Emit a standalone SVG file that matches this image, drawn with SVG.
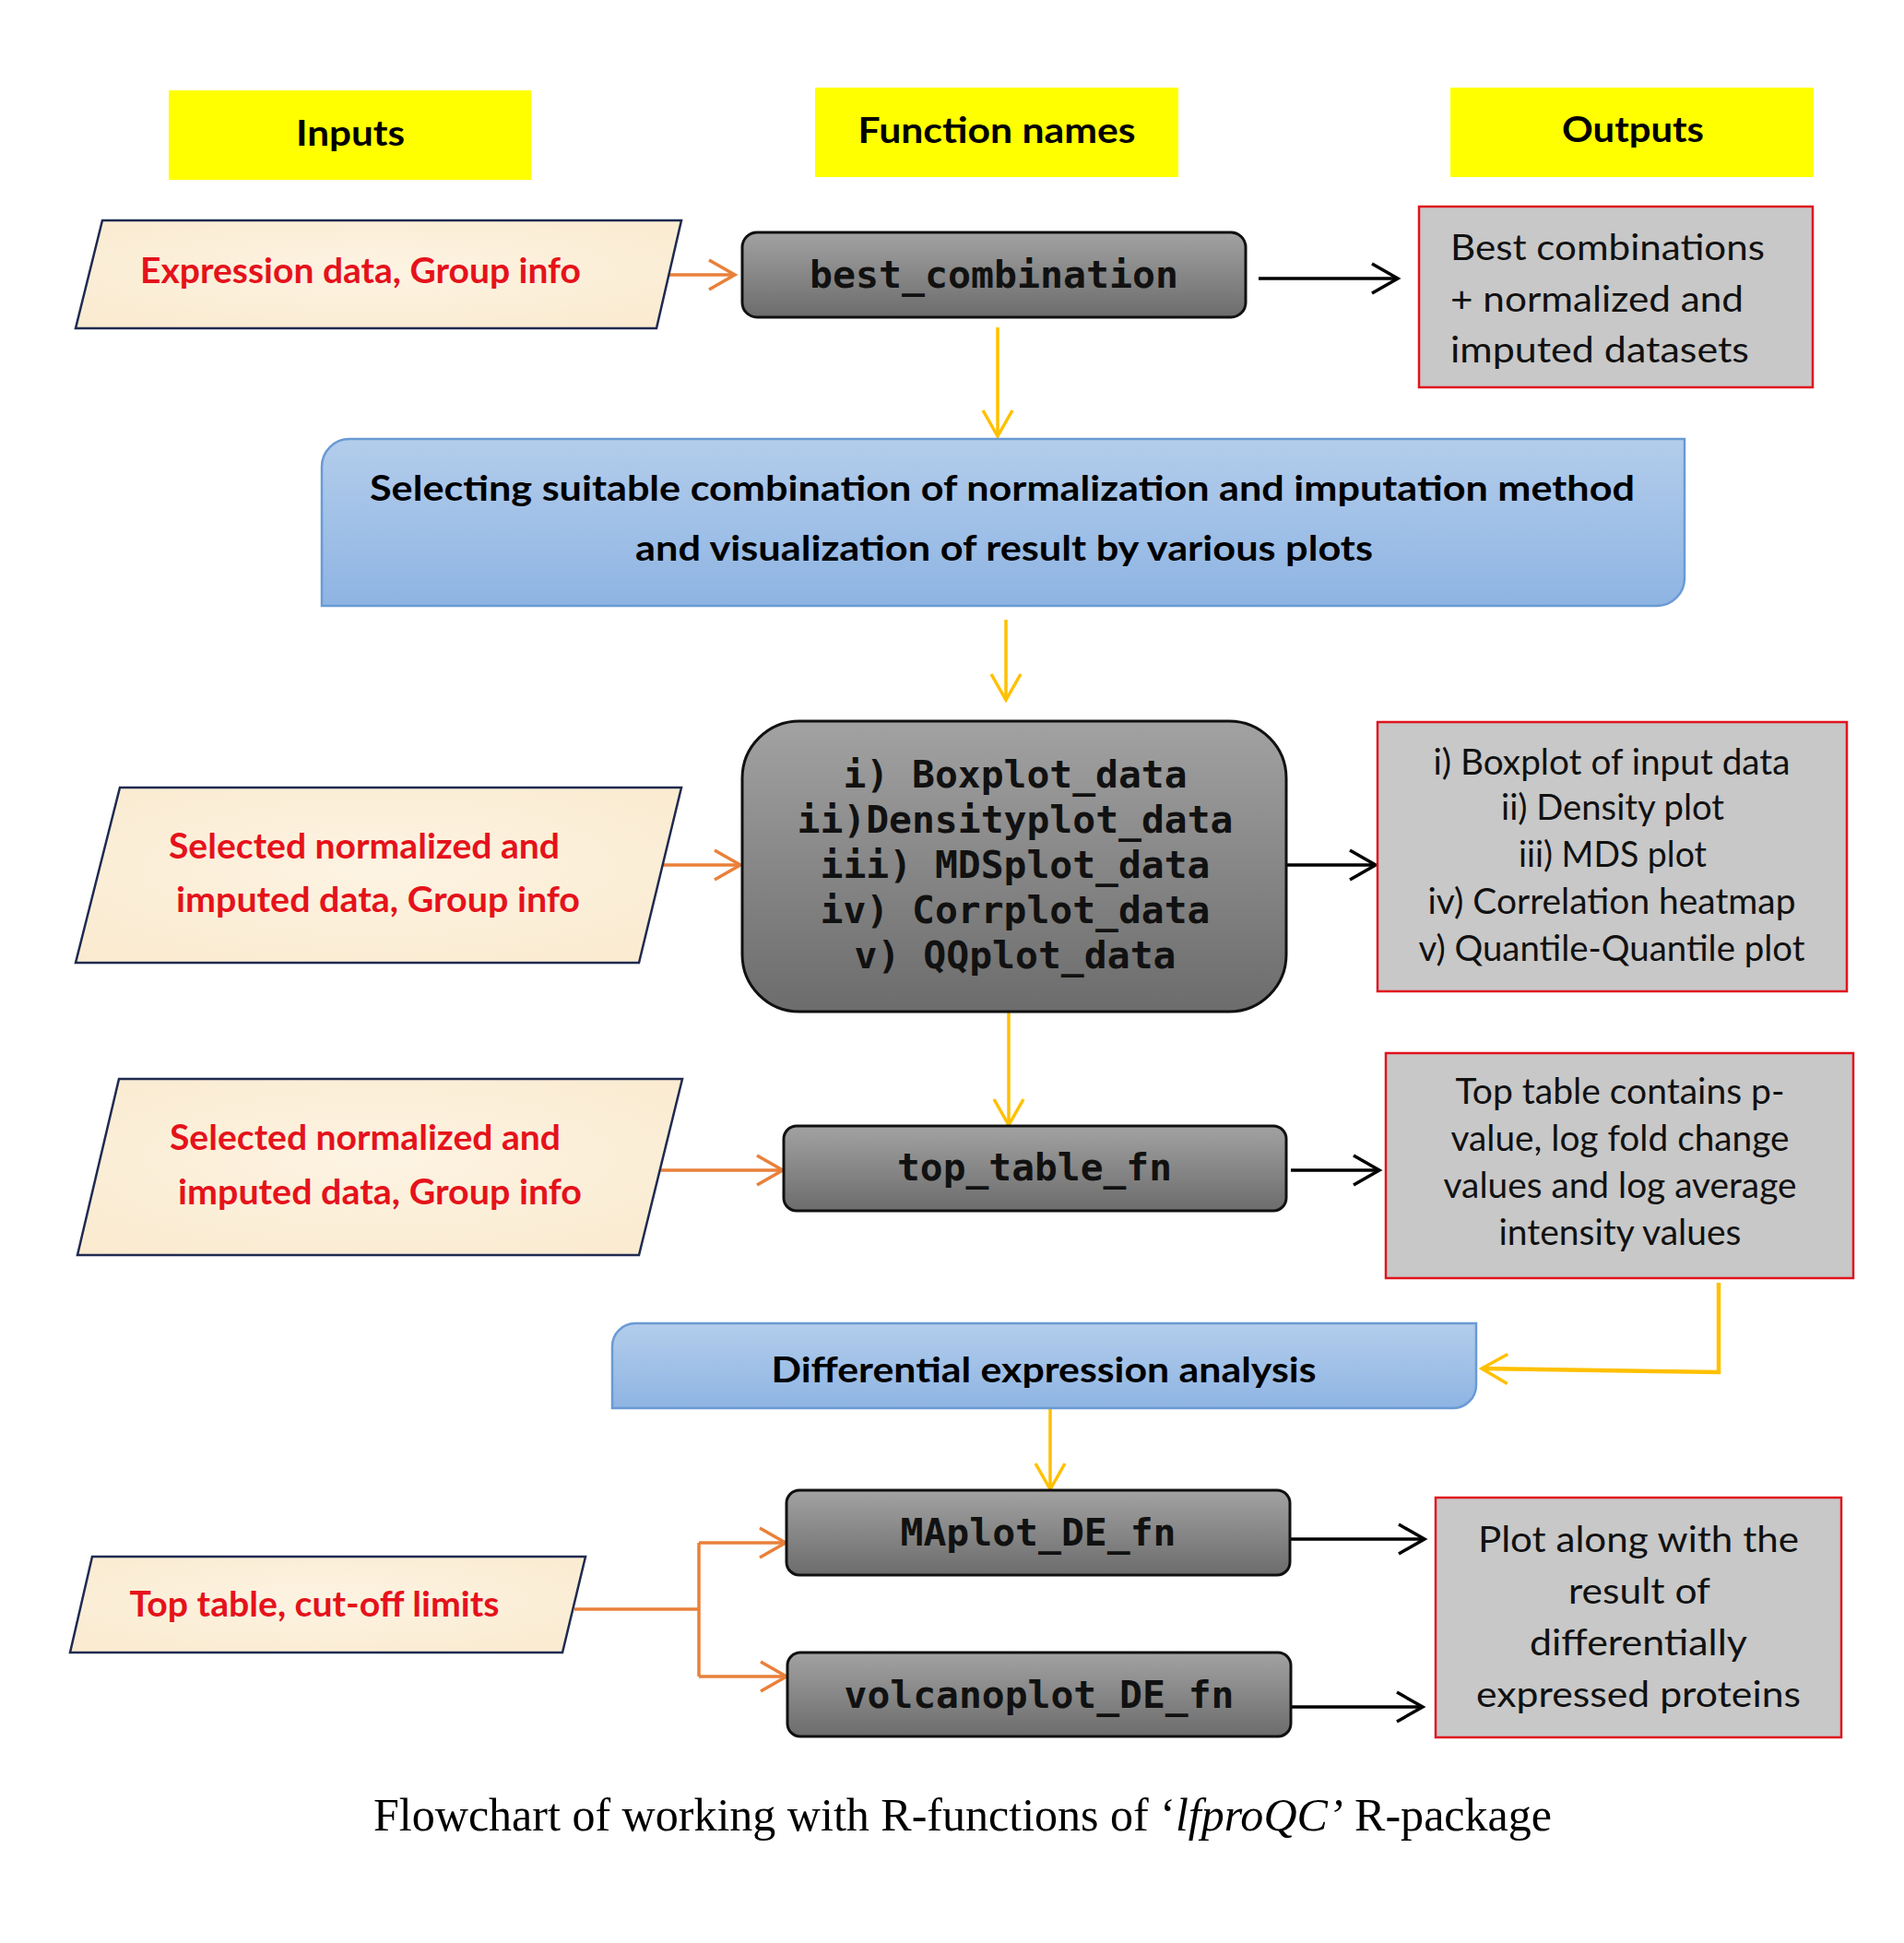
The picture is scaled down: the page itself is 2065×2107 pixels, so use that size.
<svg xmlns="http://www.w3.org/2000/svg" width="2065" height="2107" viewBox="0 0 2065 2107">
<style>
.hdr{fill:#FFFF00}
.hdrt{font-family:Lato,"Open Sans",sans-serif;font-weight:bold;font-size:39px;fill:#000;text-anchor:middle}
.para{fill:url(#parch);stroke:#1F2A50;stroke-width:2.5}
.pt{font-family:Lato,"Open Sans",sans-serif;font-weight:bold;font-size:38px;fill:#E5121B}
.fn{fill:url(#grey);stroke:#111;stroke-width:3}
.ft{font-family:"DejaVu Sans Mono","Liberation Mono",monospace;font-weight:bold;font-size:41px;fill:#111;text-anchor:middle}
.out{fill:#C8C8C8;stroke:#E0141E;stroke-width:2.5}
.ot{font-family:Lato,"Open Sans",sans-serif;font-size:38px;fill:#111}
.blue{fill:url(#blue);stroke:#6A9AD4;stroke-width:2.5}
.bt{font-family:Lato,"Open Sans",sans-serif;font-weight:bold;font-size:38px;fill:#000;text-anchor:middle}
.blk{fill:none;stroke:#000;stroke-width:3.5}
.org{fill:none;stroke:#E9803A;stroke-width:3.5}
.yel{fill:none;stroke:#FFC000;stroke-width:3.5}
.cap{font-family:"Liberation Serif","Times New Roman",serif;font-size:51px;fill:#000;text-anchor:middle}
</style>
<defs>
<radialGradient id="parch" cx="50%" cy="45%" r="70%">
<stop offset="0" stop-color="#FDF3E2"/>
<stop offset="1" stop-color="#FAEBD0"/>
</radialGradient>
<linearGradient id="grey" x1="0" y1="0" x2="0" y2="1">
<stop offset="0" stop-color="#A2A2A2"/>
<stop offset="1" stop-color="#6C6C6C"/>
</linearGradient>
<linearGradient id="blue" x1="0" y1="0" x2="0" y2="1">
<stop offset="0" stop-color="#B3CDEB"/>
<stop offset="1" stop-color="#8EB4E3"/>
</linearGradient>
<marker id="mb" markerUnits="userSpaceOnUse" markerWidth="40" markerHeight="40" viewBox="-32 -20 36 40" refX="0" refY="0" orient="auto" overflow="visible">
<path d="M-28,-16 L0,0 L-28,16" fill="none" stroke="#000" stroke-width="3.5"/>
</marker>
<marker id="mo" markerUnits="userSpaceOnUse" markerWidth="40" markerHeight="40" viewBox="-32 -20 36 40" refX="0" refY="0" orient="auto" overflow="visible">
<path d="M-28,-16 L0,0 L-28,16" fill="none" stroke="#E9803A" stroke-width="3.5"/>
</marker>
<marker id="my" markerUnits="userSpaceOnUse" markerWidth="40" markerHeight="40" viewBox="-32 -20 36 40" refX="0" refY="0" orient="auto" overflow="visible">
<path d="M-28,-16 L0,0 L-28,16" fill="none" stroke="#FFC000" stroke-width="3.5"/>
</marker>
</defs>
<rect x="0" y="0" width="2065" height="2107" fill="#fff"/>

<g id="headers">
<g id="h-inputs"><rect class="hdr" x="183" y="98" width="393" height="97"/><text class="hdrt" x="380" y="158" textLength="118" lengthAdjust="spacingAndGlyphs">Inputs</text></g>
<g id="h-functions"><rect class="hdr" x="884" y="95" width="394" height="97"/><text class="hdrt" x="1081" y="155" textLength="301" lengthAdjust="spacingAndGlyphs">Function names</text></g>
<g id="h-outputs"><rect class="hdr" x="1573" y="95" width="394" height="97"/><text class="hdrt" x="1771" y="154" textLength="154" lengthAdjust="spacingAndGlyphs">Outputs</text></g>
</g>

<g id="connectors">
<line class="org" x1="723" y1="298" x2="797" y2="298" marker-end="url(#mo)"/>
<line class="blk" x1="1365" y1="302" x2="1516" y2="302" marker-end="url(#mb)"/>
<line class="yel" x1="1082" y1="355" x2="1082" y2="473" marker-end="url(#my)"/>
<line class="yel" x1="1091" y1="672" x2="1091" y2="759" marker-end="url(#my)"/>
<line class="org" x1="717" y1="938" x2="803" y2="938" marker-end="url(#mo)"/>
<line class="blk" x1="1395" y1="938" x2="1492" y2="938" marker-end="url(#mb)"/>
<line class="yel" x1="1094" y1="1098" x2="1094" y2="1220" marker-end="url(#my)"/>
<line class="org" x1="716" y1="1269" x2="849" y2="1269" marker-end="url(#mo)"/>
<line class="blk" x1="1400" y1="1269" x2="1496" y2="1269" marker-end="url(#mb)"/>
<polyline class="yel" style="stroke-width:4.5" points="1864,1391 1864,1488 1607,1484" marker-end="url(#my)"/>
<line class="yel" x1="1139" y1="1527" x2="1139" y2="1615" marker-end="url(#my)"/>
<polyline class="org" points="623,1745 758,1745"/>
<line class="org" x1="758" y1="1673" x2="758" y2="1818"/>
<line class="org" x1="758" y1="1673" x2="852" y2="1673" marker-end="url(#mo)"/>
<line class="org" x1="758" y1="1818" x2="853" y2="1818" marker-end="url(#mo)"/>
<line class="blk" x1="1399" y1="1669" x2="1545" y2="1669" marker-end="url(#mb)"/>
<line class="blk" x1="1400" y1="1851" x2="1543" y2="1851" marker-end="url(#mb)"/>
</g>

<g id="in1"><polygon class="para" points="111,239 739,239 712,356 82,356"/><text class="pt" x="391" y="307" text-anchor="middle" textLength="478" lengthAdjust="spacingAndGlyphs">Expression data, Group info</text></g>

<g id="best_combination"><rect class="fn" x="805" y="252" width="546" height="92" rx="16"/><text class="ft" x="1078" y="312" textLength="400" lengthAdjust="spacingAndGlyphs">best_combination</text></g>

<g id="out1"><rect class="out" x="1539" y="224" width="427" height="196"/>
<text class="ot" x="1573" y="282" textLength="341" lengthAdjust="spacingAndGlyphs">Best combinations</text>
<text class="ot" x="1573" y="338" textLength="318" lengthAdjust="spacingAndGlyphs">+ normalized and</text>
<text class="ot" x="1573" y="393" textLength="324" lengthAdjust="spacingAndGlyphs">imputed datasets</text></g>

<g id="selecting"><path class="blue" d="M349,506 A30,30 0 0 1 379,476 L1827,476 L1827,627 A30,30 0 0 1 1797,657 L349,657 Z"/>
<text class="bt" x="1087" y="543" textLength="1372" lengthAdjust="spacingAndGlyphs">Selecting suitable combination of normalization and imputation method</text>
<text class="bt" x="1089" y="608" textLength="800" lengthAdjust="spacingAndGlyphs">and visualization of result by various plots</text></g>

<g id="in2"><polygon class="para" points="130,854 739,854 693,1044 82,1044"/>
<text class="pt" x="395" y="931" text-anchor="middle" textLength="424" lengthAdjust="spacingAndGlyphs">Selected normalized and</text>
<text class="pt" x="410" y="989" text-anchor="middle" textLength="438" lengthAdjust="spacingAndGlyphs">imputed data, Group info</text></g>

<g id="plots"><rect class="fn" x="805" y="782" width="590" height="315" rx="62"/>
<text class="ft" x="1101" y="854" textLength="373" lengthAdjust="spacingAndGlyphs">i) Boxplot_data</text>
<text class="ft" x="1101" y="903" textLength="473" lengthAdjust="spacingAndGlyphs">ii)Densityplot_data</text>
<text class="ft" x="1101" y="952" textLength="423" lengthAdjust="spacingAndGlyphs">iii) MDSplot_data</text>
<text class="ft" x="1101" y="1001" textLength="423" lengthAdjust="spacingAndGlyphs">iv) Corrplot_data</text>
<text class="ft" x="1101" y="1050" textLength="349" lengthAdjust="spacingAndGlyphs">v) QQplot_data</text></g>

<g id="out2"><rect class="out" x="1494" y="783" width="509" height="292"/>
<text class="ot" x="1748" y="840" text-anchor="middle" textLength="387" lengthAdjust="spacingAndGlyphs">i) Boxplot of input data</text>
<text class="ot" x="1749" y="889" text-anchor="middle" textLength="242" lengthAdjust="spacingAndGlyphs">ii) Density plot</text>
<text class="ot" x="1749" y="940" text-anchor="middle" textLength="204" lengthAdjust="spacingAndGlyphs">iii) MDS plot</text>
<text class="ot" x="1748" y="991" text-anchor="middle" textLength="399" lengthAdjust="spacingAndGlyphs">iv) Correlation heatmap</text>
<text class="ot" x="1748" y="1042" text-anchor="middle" textLength="419" lengthAdjust="spacingAndGlyphs">v) Quantile-Quantile plot</text></g>

<g id="in3"><polygon class="para" points="129,1170 740,1170 693,1361 84,1361"/>
<text class="pt" x="396" y="1247" text-anchor="middle" textLength="424" lengthAdjust="spacingAndGlyphs">Selected normalized and</text>
<text class="pt" x="412" y="1306" text-anchor="middle" textLength="438" lengthAdjust="spacingAndGlyphs">imputed data, Group info</text></g>

<g id="top_table_fn"><rect class="fn" x="850" y="1221" width="545" height="92" rx="14"/><text class="ft" x="1122" y="1280" textLength="298" lengthAdjust="spacingAndGlyphs">top_table_fn</text></g>

<g id="out3"><rect class="out" x="1503" y="1142" width="507" height="244"/>
<text class="ot" x="1757" y="1197" text-anchor="middle" textLength="357" lengthAdjust="spacingAndGlyphs">Top table contains p-</text>
<text class="ot" x="1757" y="1248" text-anchor="middle" textLength="367" lengthAdjust="spacingAndGlyphs">value, log fold change</text>
<text class="ot" x="1757" y="1299" text-anchor="middle" textLength="383" lengthAdjust="spacingAndGlyphs">values and log average</text>
<text class="ot" x="1757" y="1350" text-anchor="middle" textLength="263" lengthAdjust="spacingAndGlyphs">intensity values</text></g>

<g id="differential"><path class="blue" d="M664,1460 A25,25 0 0 1 689,1435 L1601,1435 L1601,1502 A25,25 0 0 1 1576,1527 L664,1527 Z"/>
<text class="bt" x="1132" y="1499" textLength="591" lengthAdjust="spacingAndGlyphs">Differential expression analysis</text></g>

<g id="in4"><polygon class="para" points="100,1688 635,1688 610,1792 76,1792"/>
<text class="pt" x="341" y="1753" text-anchor="middle" textLength="401" lengthAdjust="spacingAndGlyphs">Top table, cut-off limits</text></g>

<g id="MAplot_DE_fn"><rect class="fn" x="853" y="1616" width="546" height="92" rx="14"/><text class="ft" x="1126" y="1676" textLength="299" lengthAdjust="spacingAndGlyphs">MAplot_DE_fn</text></g>

<g id="volcanoplot_DE_fn"><rect class="fn" x="854" y="1792" width="546" height="91" rx="14"/><text class="ft" x="1127" y="1852" textLength="423" lengthAdjust="spacingAndGlyphs">volcanoplot_DE_fn</text></g>

<g id="out4"><rect class="out" x="1557" y="1624" width="440" height="260"/>
<text class="ot" x="1777" y="1683" text-anchor="middle" textLength="348" lengthAdjust="spacingAndGlyphs">Plot along with the</text>
<text class="ot" x="1778" y="1739" text-anchor="middle" textLength="154" lengthAdjust="spacingAndGlyphs">result of</text>
<text class="ot" x="1777" y="1795" text-anchor="middle" textLength="236" lengthAdjust="spacingAndGlyphs">differentially</text>
<text class="ot" x="1777" y="1851" text-anchor="middle" textLength="352" lengthAdjust="spacingAndGlyphs">expressed proteins</text></g>

<text class="cap" x="1044" y="1985" textLength="1278" lengthAdjust="spacingAndGlyphs">Flowchart of working with R-functions of ‘<tspan font-style="italic">lfproQC’</tspan> R-package</text>
</svg>
